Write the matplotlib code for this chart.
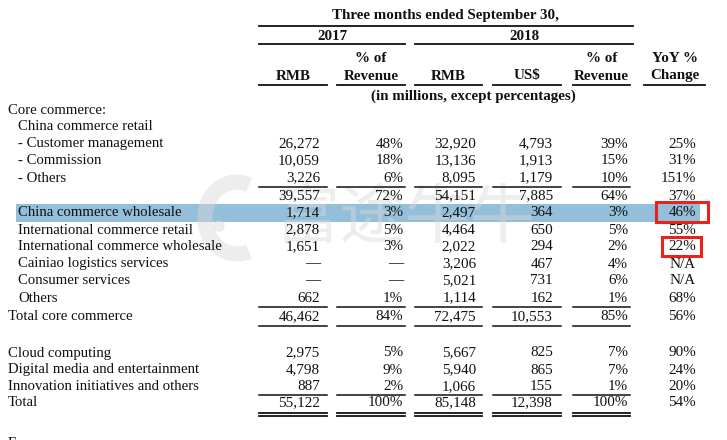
import matplotlib
matplotlib.use("Agg")
import matplotlib.pyplot as plt
from matplotlib.patches import Rectangle, Circle, Arc

# ---------------- data ----------------
row_labels = [
    "Core commerce:", "China commerce retail", "- Customer management", "- Commission",
    "- Others", "", "China commerce wholesale", "International commerce retail",
    "International commerce wholesale", "Cainiao logistics services", "Consumer services",
    "Others", "Total core commerce", "Cloud computing", "Digital media and entertainment",
    "Innovation initiatives and others", "Total",
]
row_indent = [0, 1, 1, 1, 1, 1, 1, 1, 1, 1, 1, 1, 0, 0, 0, 0, 0]
rmb_2017 = [None, None, 26272, 10059, 3226, 39557, 1714, 2878, 1651, "—", "—", 662, 46462, 2975, 4798, 887, 55122]
pct_2017 = [None, None, 48, 18, 6, 72, 3, 5, 3, "—", "—", 1, 84, 5, 9, 2, 100]
rmb_2018 = [None, None, 32920, 13136, 8095, 54151, 2497, 4464, 2022, 3206, 5021, 1114, 72475, 5667, 5940, 1066, 85148]
usd_2018 = [None, None, 4793, 1913, 1179, 7885, 364, 650, 294, 467, 731, 162, 10553, 825, 865, 155, 12398]
pct_2018 = [None, None, 39, 15, 10, 64, 3, 5, 2, 4, 6, 1, 85, 7, 7, 1, 100]
yoy = [None, None, 25, 31, 151, 37, 46, 55, 22, "N/A", "N/A", 68, 56, 90, 24, 20, 54]

header_title = "Three months ended September 30,"
year_labels = ["2017", "2018"]
col_top = ["", "% of", "", "", "% of", "YoY %"]
col_bottom = ["RMB", "Revenue", "RMB", "US$", "Revenue", "Change"]
unit_note = "(in millions, except percentages)"
highlight_row = 6
boxed_rows = [6, 8]
watermark = "富途牛牛"

# ---------------- layout (pixels) ----------------
W, H = 727, 440
fig = plt.figure(figsize=(W / 100, H / 100), dpi=100)
ax = fig.add_axes([0, 0, 1, 1])
ax.set_xlim(0, W)
ax.set_ylim(H, 0)
ax.axis("off")

SERIF = ["Liberation Serif", "DejaVu Serif"]
TXT = "#111111"
FS_LAB = 10.6
FS_NUM = 10.9
FS_HEAD = 10.8

col_spans = [(259, 327), (337, 405), (415, 482), (493, 561), (573, 630), (644, 705)]
col_right = [320, 403, 476, 553, 628, 696]
row_y = [110, 127, 144, 161, 178, 196, 213, 230, 247, 264, 281, 298, 317, 353, 370, 386.5, 403]

# highlight band
hy = row_y[highlight_row]
ax.add_patch(Rectangle((16, hy - 9), 684, 18, facecolor="#93bfdb", edgecolor="none", zorder=0))

# watermark (faint, behind the figures)
WM = "#d9d9d9"
ax.add_patch(Arc((237, 218), 64, 72, theta1=70, theta2=290, color=WM, lw=11, alpha=0.45, zorder=1))
ax.add_patch(Circle((219, 226), 5, color=WM, alpha=0.45, zorder=1))
ax.text(405, 220, watermark, ha="center", va="center", fontsize=47,
        family=["Noto Sans CJK SC", "DejaVu Sans"], color=WM, alpha=0.45, zorder=1)

# header
def bold(x, y, s, ha="center"):
    ax.text(x, y, s, ha=ha, va="center", fontsize=FS_HEAD, fontweight="bold", family=SERIF, color=TXT, zorder=3)

bold((259 + 633) / 2, 16, header_title)
ax.plot([259, 633], [26, 26], color=TXT, lw=1.3)
bold(332, 36, year_labels[0])
ax.plot([259, 405], [44, 44], color=TXT, lw=1.3)
bold((415 + 633) / 2, 36, year_labels[1])
ax.plot([415, 633], [44, 44], color=TXT, lw=1.3)
for (a, b), t, btm in zip(col_spans, col_top, col_bottom):
    c = (a + b) / 2
    if t:
        bold(c, 59, t)
    bold(c, 76, btm)
    ax.plot([a, b], [85.5, 85.5], color=TXT, lw=1.3)
bold(473, 96, unit_note)

# body
def fmt_num(v):
    if v is None:
        return ""
    if isinstance(v, str):
        return v
    return f"{v:,}"

def fmt_pct(v):
    if v is None:
        return ""
    if isinstance(v, str):
        return v
    return f"{v}%"

cols = [(rmb_2017, fmt_num), (pct_2017, fmt_pct), (rmb_2018, fmt_num),
        (usd_2018, fmt_num), (pct_2018, fmt_pct), (yoy, fmt_pct)]

for i, (lab, ind) in enumerate(zip(row_labels, row_indent)):
    y = row_y[i]
    if lab:
        ax.text(8 + 10 * ind, y, lab, ha="left", va="center", fontsize=FS_LAB, family=SERIF, color=TXT, zorder=3)
    for j, (vals, f) in enumerate(cols):
        s = f(vals[i])
        if not s:
            continue
        ax.text(col_right[j], y, s, ha="right", va="center", fontsize=FS_NUM, family=SERIF, color=TXT, zorder=3)

# rules
def rule(y, lw=1.1):
    for a, b in col_spans[:5]:
        ax.plot([a, b], [y, y], color=TXT, lw=lw)

rule(187)
rule(307)
rule(326)
rule(395.5)
rule(413, 1.3)
rule(416.5, 1.3)

# red boxes
for r in boxed_rows:
    y = row_y[r]
    if r == highlight_row:
        ax.add_patch(Rectangle((656, y - 11), 52, 20, fill=False, edgecolor="#e8231b", lw=2.2, zorder=5))
    else:
        ax.add_patch(Rectangle((662, y - 10), 39, 19, fill=False, edgecolor="#e8231b", lw=2.2, zorder=5))

# cut-off text at bottom (as in the source page)
ax.text(8, 437, "F", ha="left", va="top", fontsize=FS_LAB, family=SERIF, color=TXT)

fig.savefig("out.png", dpi=100)
